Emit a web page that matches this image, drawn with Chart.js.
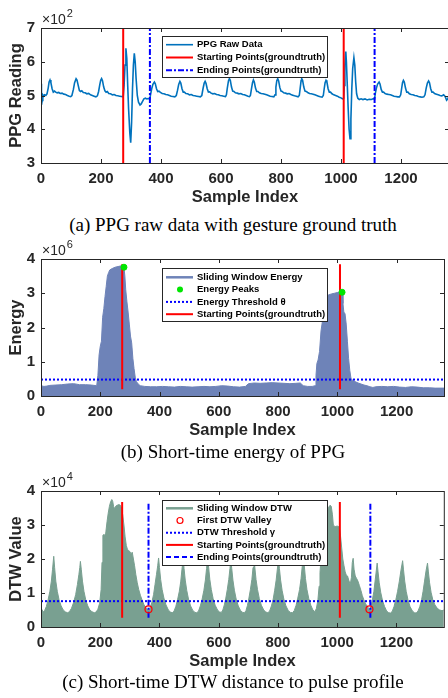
<!DOCTYPE html>
<html>
<head>
<meta charset="utf-8">
<script src="https://cdn.jsdelivr.net/npm/chart.js@4.4.1/dist/chart.umd.min.js"></script>
<style>
  html, body { margin: 0; padding: 0; background: #fff; width: 448px; height: 698px; overflow: hidden; }
  canvas { position: absolute; left: 0; }
  .cap { position: absolute; left: 233px; transform: translateX(-50%); white-space: nowrap;
         font-family: 'Liberation Serif', 'Times New Roman', serif; font-size: 19px; line-height: 19px; color: #000; }
</style>
</head>
<body>
<canvas id="ppgChart" width="449" height="210" style="top:2px"></canvas>
<div class="cap" style="top:215px">(a) PPG raw data with gesture ground truth</div>
<canvas id="energyChart" width="449" height="212" style="top:233px"></canvas>
<div class="cap" style="top:442px">(b) Short-time energy of PPG</div>
<canvas id="dtwChart" width="449" height="211" style="top:465px"></canvas>
<div class="cap" style="top:672px">(c) Short-time DTW distance to pulse profile</div>
<script>
// ticks
const sampleTicks = [0, 200, 400, 600, 800, 1000, 1200];
const ppgTicks = [3, 4, 5, 6, 7];        // x10^2
const energyTicks = [0, 1, 2, 3, 4];     // x10^6
const dtwTicks = [0, 1, 2, 3, 4];        // x10^4

// ground truth (sample index)
const gestureStart = [274, 1009];
const gestureEnd = [363, 1112];

// (a) raw PPG, [sample, reading x10^2]
const ppgRaw = [
  [0,5.35],[1,5.1],[2,4.72],[4,4.85],[6,5.02],[9,4.98],[12,5.02],[16,5.0],[20,5.05],[24,5.22],[27,5.4],[30,5.46],
  [33,5.38],[37,5.2],[41,5.1],[45,5.13],[49,5.1],[54,5.08],[59,5.09],[64,5.06],[70,5.07],[76,5.04],[82,5.03],[88,5.0],
  [94,4.98],[99,4.97],[103,5.0],[108,5.18],[112,5.38],[117,5.5],[120,5.46],[124,5.3],[128,5.15],[132,5.12],[136,5.14],
  [141,5.09],[147,5.08],[153,5.05],[159,5.06],[165,5.02],[171,5.0],[177,4.98],[183,4.96],[188,4.99],[192,5.12],[196,5.32],
  [199,5.45],[202,5.5],[205,5.44],[209,5.25],[213,5.14],[217,5.1],[221,5.12],[226,5.06],[232,5.05],[238,5.02],[244,5.03],
  [250,5.0],[256,4.99],[262,4.98],[268,4.97],[274,4.96],
  [277,5.3],[280,5.9],[283,6.4],[286,6.1],[289,5.3],[292,4.6],[296,3.9],[299,3.6],[302,4.2],[305,5.2],[308,5.9],[311,6.25],
  [314,6.0],[317,5.5],[321,5.0],[325,4.8],[330,4.72],[334,4.75],[338,4.82],[343,4.9],[348,4.92],[353,4.9],[358,4.91],[363,4.9],
  [365,5.02],[369,5.2],[373,5.33],[378,5.4],[381,5.35],[385,5.2],[389,5.12],[393,5.13],[398,5.09],[404,5.06],[410,5.05],
  [416,5.03],[422,5.02],[428,5.0],[434,4.98],[440,4.97],[446,4.96],[451,5.0],[455,5.15],[459,5.33],[463,5.42],[466,5.37],
  [470,5.2],[474,5.1],[478,5.1],[483,5.06],[489,5.05],[495,5.02],[501,5.03],[507,5.0],[513,4.99],[519,4.98],[525,4.97],
  [531,4.96],[536,5.0],[540,5.2],[544,5.37],[547,5.42],[550,5.36],[554,5.2],[558,5.1],[562,5.11],[567,5.07],[573,5.05],
  [579,5.06],[585,5.03],[591,5.02],[597,5.0],[603,4.99],[609,4.98],[615,4.97],[618,5.02],[621,5.22],[625,5.44],[628,5.5],
  [631,5.45],[635,5.25],[639,5.13],[643,5.12],[648,5.08],[654,5.07],[660,5.05],[666,5.06],[672,5.03],[678,5.02],[684,5.0],
  [690,4.98],[695,4.97],[698,5.0],[701,5.17],[705,5.38],[708,5.46],[711,5.4],[715,5.22],[719,5.12],[723,5.12],[728,5.08],
  [734,5.06],[740,5.05],[746,5.04],[752,5.02],[758,5.0],[764,4.98],[770,4.97],[776,4.96],[780,5.02],[783,5.25],[786,5.44],
  [789,5.5],[792,5.44],[796,5.24],[800,5.13],[804,5.12],[809,5.08],[815,5.07],[821,5.05],[827,5.06],[833,5.03],[839,5.01],
  [845,4.99],[851,4.98],[857,4.96],[861,5.0],[864,5.22],[867,5.44],[869,5.5],[872,5.45],[876,5.25],[880,5.13],[884,5.12],
  [889,5.09],[895,5.06],[901,5.05],[907,5.04],[913,5.02],[919,5.0],[925,4.98],[931,4.96],[937,4.95],[941,5.0],[944,5.2],
  [947,5.38],[950,5.45],[953,5.4],[957,5.2],[961,5.1],[965,5.1],[970,5.05],[976,5.02],[982,5.0],[988,4.98],[994,4.95],
  [1000,4.93],[1005,4.9],[1009,4.92],
  [1011,5.3],[1013,5.9],[1016,6.3],[1018,6.0],[1021,5.3],[1024,4.6],[1027,4.0],[1030,3.72],[1033,4.3],[1036,5.2],[1039,5.8],
  [1043,6.12],[1046,5.9],[1049,5.4],[1052,5.05],[1056,4.92],[1061,4.88],[1067,4.9],[1073,4.88],[1080,4.9],[1087,4.87],
  [1094,4.89],[1101,4.88],[1107,4.9],[1112,4.9],[1114,5.05],[1118,5.22],[1122,5.34],[1127,5.4],[1130,5.34],[1134,5.18],
  [1138,5.1],[1142,5.1],[1147,5.06],[1153,5.04],[1159,5.03],[1165,5.02],[1171,5.0],[1177,4.98],[1183,4.97],[1189,4.96],
  [1195,4.96],[1199,5.02],[1202,5.2],[1205,5.38],[1208,5.45],[1211,5.4],[1215,5.22],[1219,5.1],[1223,5.1],[1228,5.05],
  [1234,5.03],[1240,5.02],[1246,5.0],[1252,4.99],[1258,4.97],[1264,4.96],[1270,4.95],[1276,4.96],[1280,5.02],[1284,5.22],
  [1288,5.37],[1292,5.43],[1295,5.38],[1299,5.2],[1303,5.1],[1307,5.1],[1312,5.06],[1318,5.04],[1324,5.02],[1330,5.0],
  [1336,4.99],[1342,5.02],[1347,4.97],[1352,4.86],[1356,4.9],[1360,5.0]
];

// (b) sliding window energy, [sample, energy x10^6]
const energy = [
  [0,0.3],[10,0.28],[20,0.29],[30,0.31],[50,0.32],[70,0.33],[90,0.35],[110,0.36],[130,0.33],[150,0.33],[170,0.32],[188,0.3],
  [192,0.6],[196,1.2],[200,1.45],[204,1.6],[208,2.3],[212,2.55],[216,2.9],[220,3.2],[224,3.5],[228,3.6],[232,3.68],[240,3.72],
  [250,3.76],[260,3.78],[270,3.8],[280,3.76],[283,3.5],[286,3.1],[290,2.75],[294,2.45],[298,2.1],[302,1.75],[306,1.55],
  [310,1.1],[314,0.8],[318,0.55],[322,0.42],[328,0.35],[335,0.3],[350,0.28],[370,0.27],[390,0.27],[410,0.28],[430,0.27],
  [450,0.26],[470,0.28],[490,0.27],[510,0.26],[530,0.27],[550,0.28],[570,0.27],[590,0.28],[610,0.3],[630,0.29],[650,0.27],
  [670,0.26],[690,0.28],[700,0.36],[720,0.38],[740,0.37],[760,0.38],[780,0.39],[800,0.38],[820,0.37],[840,0.36],[860,0.37],
  [875,0.38],[885,0.3],[900,0.28],[915,0.28],[925,0.3],[928,0.6],[931,0.95],[935,1.05],[940,1.3],[945,1.9],[950,2.2],
  [955,2.6],[960,2.9],[970,2.95],[980,2.98],[990,3.0],[1000,3.02],[1010,3.05],[1016,3.03],[1019,2.7],[1022,2.45],[1026,2.4],
  [1030,2.1],[1034,1.6],[1038,1.1],[1042,0.75],[1046,0.52],[1052,0.45],[1060,0.42],[1070,0.38],[1080,0.35],[1090,0.32],
  [1100,0.3],[1110,0.27],[1120,0.25],[1130,0.27],[1150,0.28],[1170,0.27],[1190,0.28],[1210,0.26],[1230,0.25],[1250,0.27],
  [1270,0.26],[1290,0.24],[1310,0.24],[1330,0.23],[1360,0.23]
];
const energyPeaks = [[280, 3.76], [1016, 3.03]];
const energyThreshold = 0.48;

// (c) sliding window DTW, [sample, value x10^4]
const dtw = [
  [0,0.55],[4,0.5],[8,0.45],[12,0.48],[18,0.6],[24,0.8],[30,1.05],[35,1.35],[39,1.7],[43,2.08],[46,1.75],[50,1.35],[55,1.05],
  [61,0.8],[68,0.62],[75,0.5],[83,0.44],[90,0.42],[96,0.45],[103,0.55],[110,0.72],[117,0.95],[123,1.25],[128,1.55],[131,1.75],
  [133,1.93],[136,1.7],[140,1.35],[145,1.05],[151,0.8],[158,0.62],[165,0.5],[172,0.45],[180,0.42],[186,0.44],[192,0.52],
  [198,0.7],[203,1.1],[206,1.9],[209,2.7],[213,2.72],[216,2.55],[219,2.8],[223,3.1],[227,3.35],[231,3.55],[235,3.68],
  [239,3.75],[242,3.7],[245,3.55],[248,3.48],[252,3.55],[257,3.58],[263,3.6],[268,3.58],[272,3.5],[276,3.3],[280,3.0],
  [284,2.65],[288,2.4],[292,2.28],[296,2.25],[300,2.22],[304,2.15],[308,2.2],[312,2.0],[316,1.8],[320,1.55],[325,1.3],
  [330,1.1],[336,0.92],[342,0.78],[348,0.65],[354,0.57],[359,0.52],[363,0.5],[368,0.55],[374,0.72],[380,0.95],[385,1.25],
  [390,1.55],[394,1.8],[397,2.03],[400,1.75],[404,1.4],[409,1.1],[415,0.85],[422,0.65],[430,0.5],[437,0.44],[443,0.42],
  [449,0.46],[455,0.6],[461,0.8],[467,1.05],[472,1.35],[476,1.7],[480,2.0],[483,1.72],[487,1.38],[492,1.08],[498,0.82],
  [505,0.62],[513,0.48],[520,0.43],[526,0.42],[532,0.47],[538,0.62],[544,0.82],[550,1.08],[555,1.38],[559,1.72],[563,2.05],
  [566,1.76],[570,1.4],[575,1.1],[581,0.84],[588,0.64],[596,0.5],[603,0.44],[609,0.43],[614,0.5],[619,0.65],[624,0.85],
  [629,1.1],[634,1.4],[638,1.72],[641,2.0],[644,1.72],[648,1.38],[653,1.08],[659,0.82],[666,0.62],[674,0.48],[681,0.43],
  [687,0.42],[692,0.48],[697,0.63],[702,0.85],[707,1.1],[712,1.4],[716,1.75],[719,2.05],[722,1.75],[726,1.4],[731,1.1],
  [737,0.84],[744,0.64],[752,0.5],[759,0.44],[766,0.42],[772,0.47],[778,0.62],[784,0.82],[789,1.08],[794,1.38],[798,1.7],
  [802,2.0],[805,1.72],[809,1.38],[814,1.08],[820,0.82],[827,0.62],[835,0.48],[842,0.43],[849,0.42],[855,0.48],[861,0.63],
  [867,0.85],[873,1.1],[878,1.42],[882,1.78],[886,2.1],[889,1.8],[893,1.42],[898,1.1],[904,0.84],[911,0.64],[918,0.5],
  [925,0.45],[930,0.55],[935,0.8],[939,1.2],[942,1.6],[945,1.95],[949,2.3],[953,2.6],[957,2.8],[961,3.1],[966,3.35],
  [971,3.52],[976,3.58],[980,3.55],[984,3.3],[987,3.0],[993,2.95],[1000,2.97],[1007,2.94],[1011,2.7],[1015,2.35],[1019,2.0],
  [1023,1.8],[1027,1.62],[1031,1.52],[1035,1.5],[1039,1.38],[1044,1.25],[1048,1.45],[1051,1.9],[1054,2.02],[1057,1.7],
  [1061,1.5],[1066,1.42],[1070,1.35],[1075,1.22],[1080,1.08],[1085,0.92],[1090,0.8],[1096,0.68],[1102,0.6],[1107,0.54],
  [1110,0.52],[1114,0.6],[1119,0.8],[1124,1.05],[1128,1.35],[1132,1.65],[1135,1.88],[1138,1.62],[1142,1.3],[1147,1.02],
  [1153,0.78],[1160,0.6],[1167,0.47],[1174,0.42],[1180,0.41],[1186,0.46],[1192,0.6],[1198,0.8],[1204,1.05],[1210,1.35],
  [1215,1.65],[1221,1.95],[1224,1.68],[1228,1.35],[1233,1.05],[1239,0.8],[1246,0.6],[1254,0.47],[1261,0.42],[1267,0.41],
  [1273,0.47],[1279,0.6],[1285,0.8],[1290,1.05],[1295,1.35],[1300,1.65],[1305,1.88],[1308,1.62],[1312,1.3],[1317,1.02],
  [1323,0.8],[1330,0.65],[1338,0.55],[1346,0.5],[1354,0.48],[1360,0.5]
];
const dtwValleys = [[363, 0.52], [1109, 0.52]];
const dtwThreshold = 0.76;

const INK = '#262626';
const BLUE_PPG = '#0072bd';
const ENERGY_COL = '#6e83b8';
const DTW_COL = '#79a091';
const tickFont = { family: "'Liberation Sans', Arial, sans-serif", size: 15, weight: 'bold' };
const titleFont = { family: "'Liberation Sans', Arial, sans-serif", size: 16.5, weight: 'bold' };

const pts = arr => arr.map(([x, y]) => ({ x, y }));
function vlines(xs, y0, y1) {
  const out = [];
  xs.forEach(x => { out.push({ x, y: y0 }, { x, y: y1 }, { x, y: null }); });
  return out;
}

// box, inward ticks, exponent label and the legend box
const frame = {
  id: 'frame',
  afterDraw(chart, args, opts) {
    const { ctx, chartArea: a, scales: { x, y } } = chart;
    ctx.save();
    ctx.strokeStyle = INK;
    ctx.lineWidth = 1;
    ctx.setLineDash([]);
    ctx.strokeRect(a.left + 0.5, a.top + 0.5, a.right - a.left, a.bottom - a.top);
    ctx.beginPath();
    x.ticks.forEach(t => {
      const px = Math.round(x.getPixelForValue(t.value)) + 0.5;
      ctx.moveTo(px, a.bottom); ctx.lineTo(px, a.bottom - 4);
      ctx.moveTo(px, a.top); ctx.lineTo(px, a.top + 4);
    });
    y.ticks.forEach(t => {
      const py = Math.round(y.getPixelForValue(t.value)) + 0.5;
      ctx.moveTo(a.left, py); ctx.lineTo(a.left + 4, py);
      ctx.moveTo(a.right, py); ctx.lineTo(a.right - 4, py);
    });
    ctx.stroke();

    ctx.fillStyle = INK;
    ctx.textAlign = 'left';
    ctx.textBaseline = 'alphabetic';
    ctx.font = "14px 'Liberation Sans', Arial, sans-serif";
    ctx.fillText('\u00d710', a.left + 1, a.top - 4);
    const w = ctx.measureText('\u00d710').width;
    ctx.font = "11px 'Liberation Sans', Arial, sans-serif";
    ctx.fillText(opts.exponent, a.left + 2 + w, a.top - 11);

    // legend
    const lg = opts.legend;
    const bx = 162, bw = 165, by = a.top + lg.top;
    ctx.fillStyle = '#fff';
    ctx.fillRect(bx, by, bw, lg.h);
    ctx.strokeStyle = INK;
    ctx.lineWidth = 1;
    ctx.strokeRect(bx + 0.5, by + 0.5, bw, lg.h);
    const items = chart.data.datasets.filter(d => d.legendKind);
    items.forEach((d, i) => {
      const ry = by + lg.first + i * lg.step;
      ctx.save();
      if (d.legendKind === 'dot') {
        ctx.fillStyle = d.pointBackgroundColor;
        ctx.beginPath(); ctx.arc(180, ry, 3, 0, Math.PI * 2); ctx.fill();
      } else if (d.legendKind === 'ring') {
        ctx.strokeStyle = d.pointBorderColor; ctx.lineWidth = 1.2;
        ctx.beginPath(); ctx.arc(180, ry, 3, 0, Math.PI * 2); ctx.stroke();
      } else {
        ctx.strokeStyle = d.borderColor;
        ctx.lineWidth = d.legendKind === 'area' ? 2.5 : d.borderWidth;
        ctx.setLineDash(d.legendDash || d.borderDash || []);
        ctx.beginPath(); ctx.moveTo(166, ry); ctx.lineTo(193, ry); ctx.stroke();
      }
      ctx.restore();
      ctx.fillStyle = '#000';
      ctx.textBaseline = 'middle';
      ctx.font = "bold 9.5px 'Liberation Sans', Arial, sans-serif";
      ctx.fillText(d.label, 197, ry);
    });
    ctx.restore();
  }
};

function makeChart(id, datasets, yTicks, yTitle, exponent, legend) {
  return new Chart(document.getElementById(id), {
    type: 'line',
    data: { datasets },
    options: {
      responsive: false,
      animation: false,
      devicePixelRatio: 1,
      layout: { padding: { top: 26, left: 0, right: 0, bottom: 0 } },
      elements: { point: { radius: 0 }, line: { tension: 0 } },
      plugins: {
        legend: { display: false },
        tooltip: { enabled: false },
        frame: { exponent, legend }
      },
      scales: {
        x: {
          type: 'linear', min: 0, max: 1360,
          grid: { display: false, drawTicks: false },
          border: { display: false },
          afterBuildTicks: s => { s.ticks = sampleTicks.map(v => ({ value: v })); },
          afterFit: s => { s.height = 49; },
          ticks: { padding: 7, color: INK, font: tickFont, maxRotation: 0, autoSkip: false,
                   callback: v => String(v) },
          title: { display: true, text: 'Sample Index', color: INK, font: titleFont, padding: { top: 0, bottom: 5 } }
        },
        y: {
          type: 'linear', min: yTicks[0], max: yTicks[yTicks.length - 1],
          grid: { display: false, drawTicks: false },
          border: { display: false },
          afterBuildTicks: s => { s.ticks = yTicks.map(v => ({ value: v })); },
          afterFit: s => { s.width = 41; },
          ticks: { padding: 6, color: INK, font: tickFont, callback: v => String(v) },
          title: { display: true, text: yTitle, color: INK, font: titleFont, padding: { top: 7, bottom: 0 } }
        }
      }
    },
    plugins: [frame]
  });
}

makeChart('ppgChart', [
  { label: 'PPG Raw Data', legendKind: 'line', data: pts(ppgRaw), borderColor: BLUE_PPG, borderWidth: 1.6, order: 3 },
  { label: 'Starting Points(groundtruth)', legendKind: 'line', data: vlines(gestureStart, 3, 7),
    borderColor: '#ff0000', borderWidth: 2, order: 2 },
  { label: 'Ending Points(groundtruth)', legendKind: 'line', data: vlines(gestureEnd, 3, 7),
    borderColor: '#0000ff', borderWidth: 2, borderDash: [6, 2, 2, 2], order: 1 }
], ppgTicks, 'PPG Reading', '2', { top: 8, h: 41, first: 8.7, step: 12.8 });

makeChart('energyChart', [
  { label: 'Sliding Window Energy', legendKind: 'area', data: pts(energy), borderColor: ENERGY_COL,
    backgroundColor: ENERGY_COL, borderWidth: 1, fill: 'origin', order: 5 },
  { label: 'Energy Peaks', legendKind: 'dot', data: pts(energyPeaks), showLine: false, pointRadius: 3,
    pointBackgroundColor: '#00e600', pointBorderColor: '#00e600', borderColor: '#00e600', order: 1 },
  { label: 'Energy Threshold \u03b8', legendKind: 'line', data: [{ x: 0, y: energyThreshold }, { x: 1360, y: energyThreshold }],
    borderColor: '#0000ff', borderWidth: 2, borderDash: [2, 2], order: 3 },
  { label: 'Starting Points(groundtruth)', legendKind: 'line', data: vlines(gestureStart, 0.2, 3.85),
    borderColor: '#ff0000', borderWidth: 2, order: 2 }
], energyTicks, 'Energy', '6', { top: 9, h: 53, first: 9.3, step: 12.3 });

makeChart('dtwChart', [
  { label: 'Sliding Window DTW', legendKind: 'area', data: pts(dtw), borderColor: DTW_COL,
    backgroundColor: DTW_COL, borderWidth: 1, fill: 'origin', order: 5 },
  { label: 'First DTW Valley', legendKind: 'ring', data: pts(dtwValleys), showLine: false, pointRadius: 3.5,
    pointBorderWidth: 1.2, pointBackgroundColor: 'rgba(0,0,0,0)', pointBorderColor: '#ff0000', borderColor: '#ff0000', order: 1 },
  { label: 'DTW Threshold \u03b3', legendKind: 'line', data: [{ x: 0, y: dtwThreshold }, { x: 1360, y: dtwThreshold }],
    borderColor: '#0000ff', borderWidth: 2, borderDash: [2, 2], order: 4 },
  { label: 'Starting Points(groundtruth)', legendKind: 'line', data: vlines(gestureStart, 0.27, 3.68),
    borderColor: '#ff0000', borderWidth: 2, order: 3 },
  { label: 'Ending Points(groundtruth)', legendKind: 'line', data: vlines(gestureEnd, 0.27, 3.68),
    borderColor: '#0000ff', borderWidth: 2, borderDash: [6, 2, 2, 2], legendDash: [5, 3], order: 2 }
], dtwTicks, 'DTW Value', '4', { top: 9, h: 65, first: 8.3, step: 12.2 });
</script>
</body>
</html>
